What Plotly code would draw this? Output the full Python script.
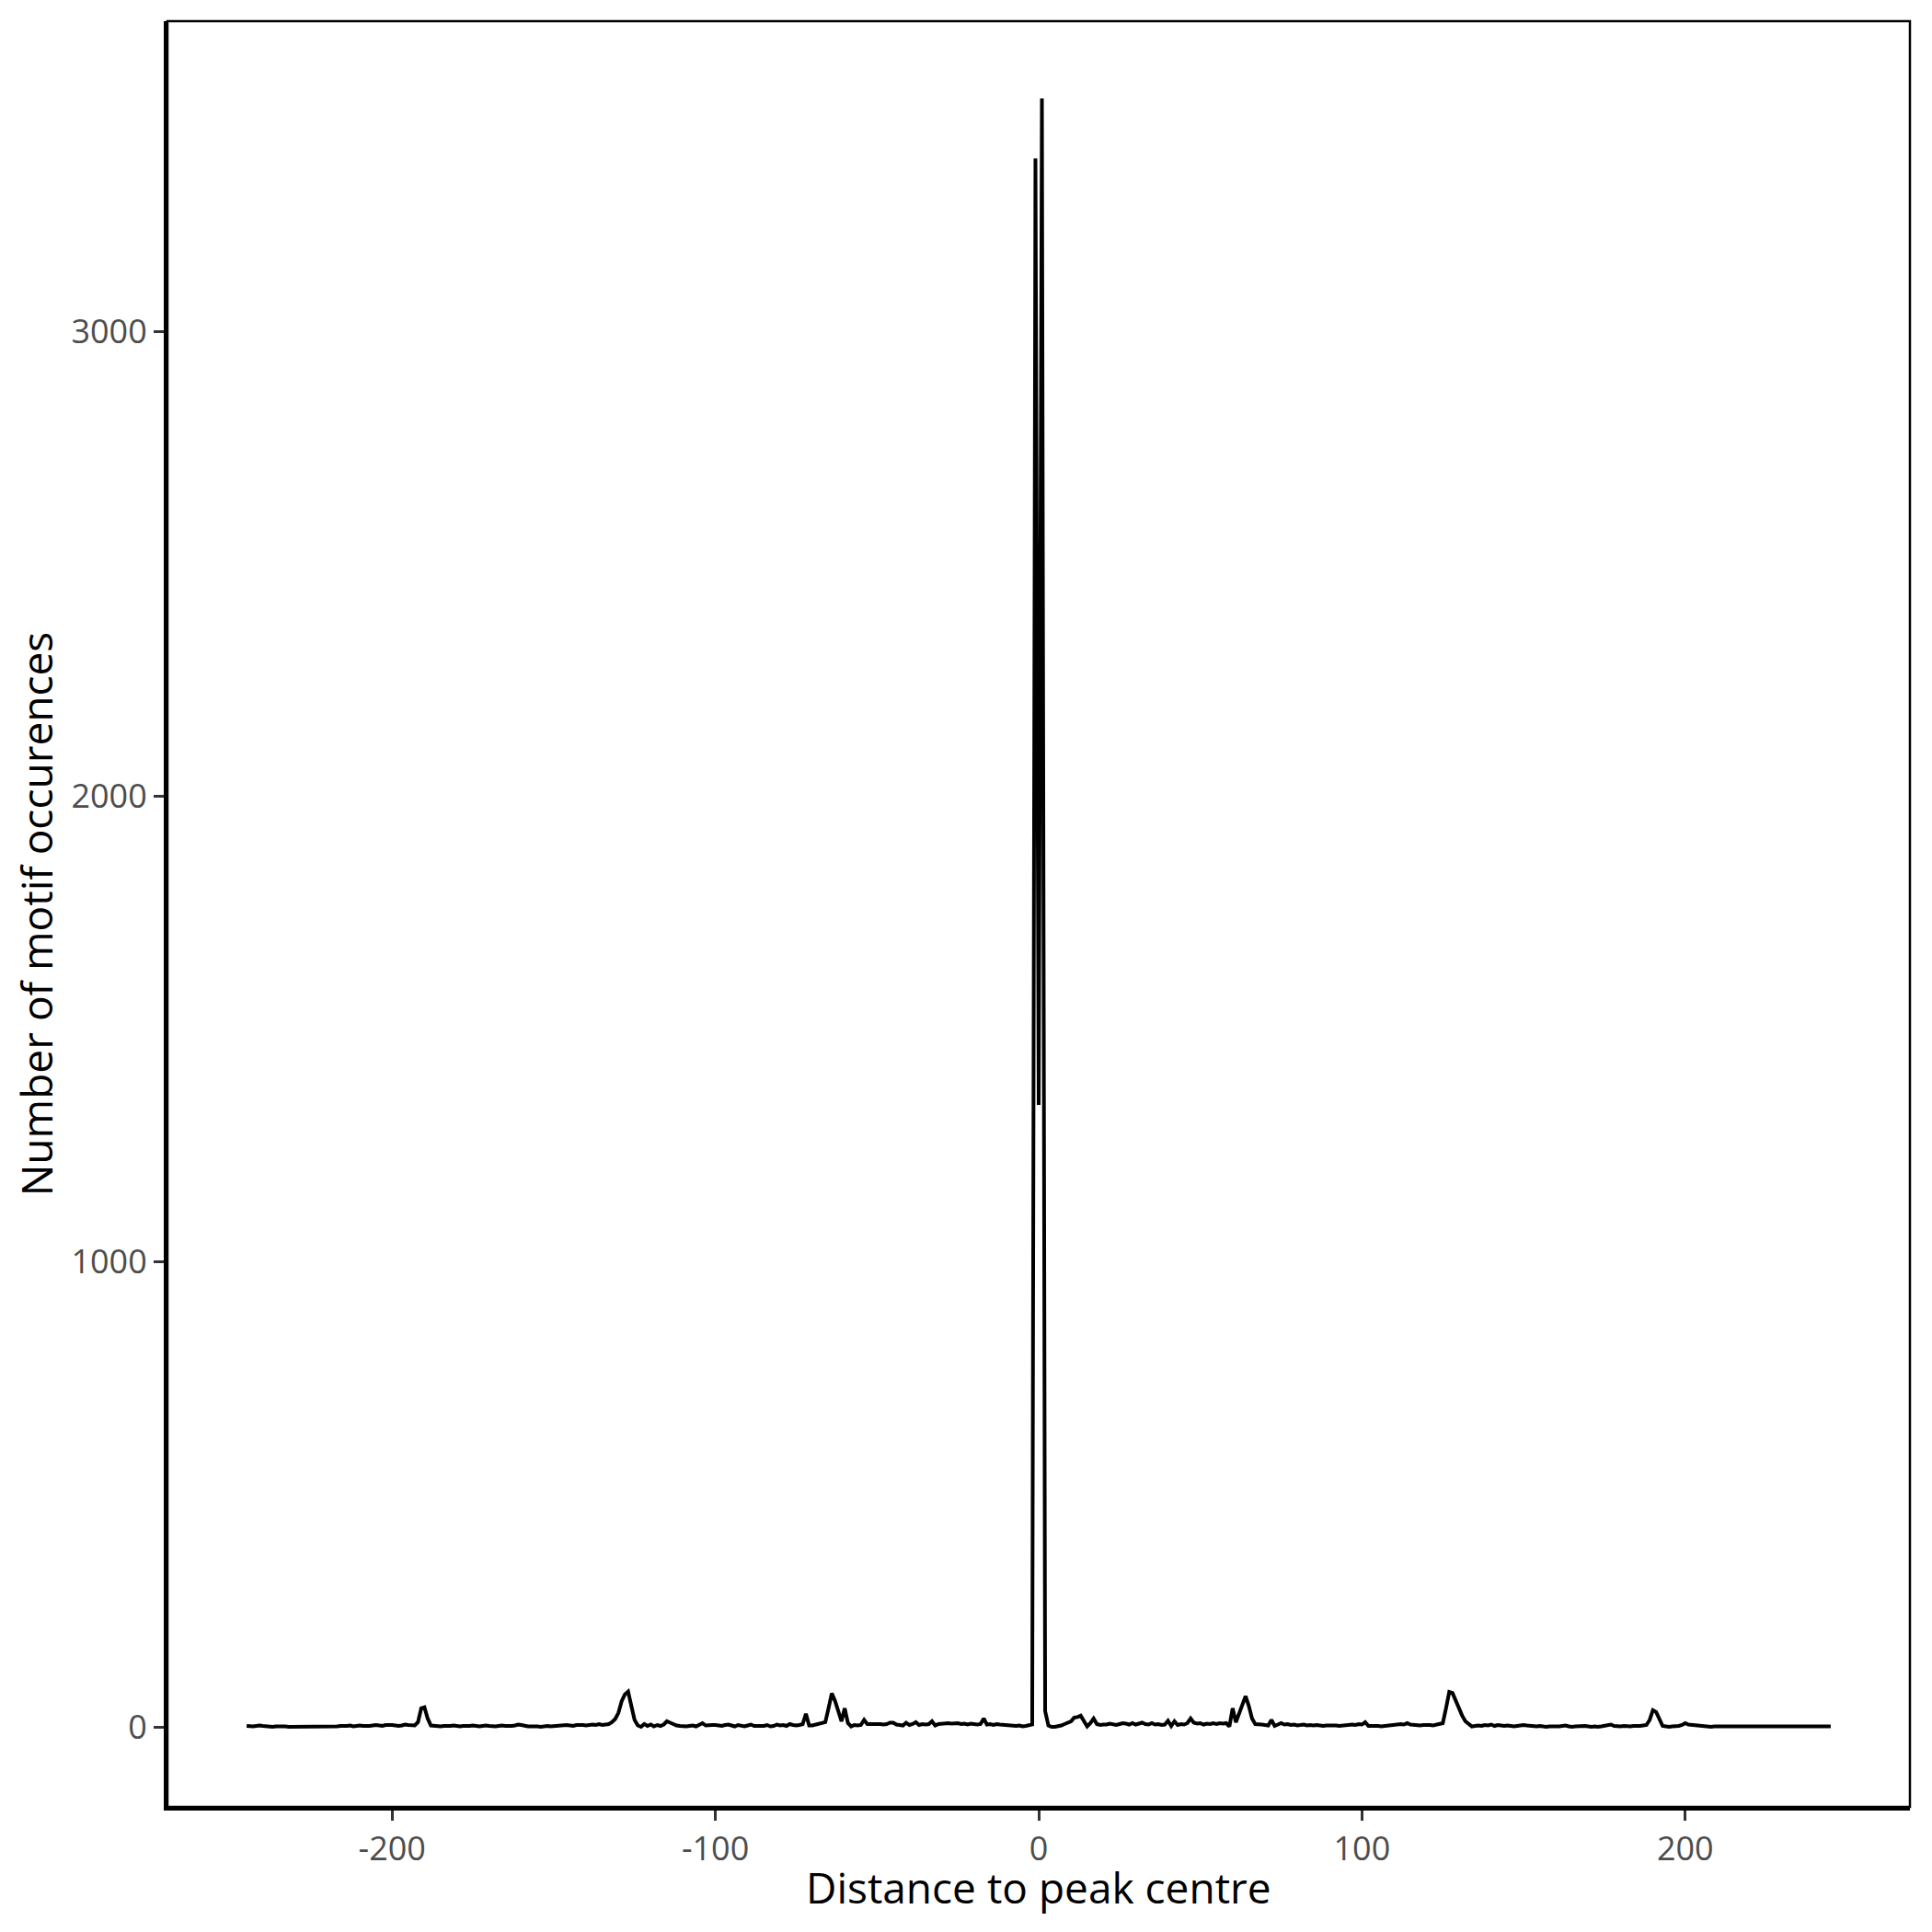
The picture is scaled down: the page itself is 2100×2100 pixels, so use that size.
import plotly.graph_objects as go

# Distance bins (bp) from -245 to 245
x_start = -245
x_end = 245

# Counts for distances -245 .. -6
counts_left = [
    2, 1, 1, 2, 3, 2, 1, 1, 0, 1,
    1, 2, 1, 0, 0, 1, 1, 0, 0, 1,
    0, 0, 1, 0, 0, 1, 0, 0, 1, 2,
    1, 2, 3, 1, 2, 3, 2, 1, 2, 3,
    4, 3, 2, 4, 5, 4, 3, 2, 3, 5,
    4, 3, 3, 10, 40, 42, 18, 3, 2, 2,
    1, 2, 1, 2, 3, 2, 1, 2, 1, 2,
    3, 2, 1, 2, 3, 2, 1, 1, 2, 3,
    2, 1, 2, 3, 5, 4, 2, 1, 1, 2,
    1, 0, 1, 2, 1, 2, 3, 2, 3, 4,
    3, 2, 4, 5, 4, 3, 4, 5, 4, 6,
    4, 5, 6, 10, 17, 30, 55, 70, 76, 45,
    15, 3, 0, 6, 2, 5, 1, 4, 2, 5,
    12, 9, 5, 3, 2, 1, 1, 2, 3, 1,
    4, 8, 3, 4, 4, 4, 3, 2, 4, 5,
    3, 1, 4, 2, 1, 3, 5, 2, 2, 1,
    2, 4, 1, 2, 5, 3, 4, 2, 6, 4,
    3, 4, 6, 28, 3, 3, 5, 6, 8, 10,
    40, 72, 56, 35, 12, 40, 8, 1, 4, 3,
    4, 15, 6, 6, 7, 6, 6, 5, 6, 9,
    9, 5, 4, 3, 9, 4, 6, 10, 4, 6,
    5, 6, 12, 3, 6, 7, 8, 8, 7, 8,
    8, 6, 7, 5, 7, 6, 5, 6, 18, 5,
    6, 4, 6, 5, 4, 3, 2, 1, 2, 3,
]

# Counts for distances -5 .. 4 (peak centre)
counts_centre = [1, 2, 3, 5, 3372, 1337, 3501, 34, 3, 0]

# Counts for distances 5 .. 245
counts_right = [
    0, 1, 3, 6, 10, 12, 20, 21, 24, 12,
    1, 8, 18, 6, 4, 5, 5, 7, 5, 4,
    6, 8, 7, 5, 8, 5, 7, 9, 6, 5,
    8, 5, 6, 4, 5, 13, 2, 12, 4, 6,
    5, 8, 18, 9, 7, 8, 5, 7, 6, 8,
    6, 8, 7, 8, 1, 40, 10, 29, 44, 66,
    45, 18, 6, 6, 5, 4, 3, 15, 2, 5,
    8, 5, 6, 4, 5, 3, 4, 5, 3, 4,
    3, 4, 3, 2, 3, 3, 4, 3, 2, 3,
    3, 4, 5, 4, 6, 5, 10, 2, 2, 3,
    2, 1, 2, 3, 4, 5, 4, 6, 5, 8,
    5, 4, 4, 3, 4, 5, 4, 3, 4, 5,
    8, 40, 75, 73, 55, 38, 24, 12, 6, 1,
    2, 3, 2, 4, 3, 5, 2, 4, 3, 2,
    3, 2, 1, 2, 3, 4, 3, 2, 1, 1,
    2, 1, 0, 1, 2, 1, 1, 2, 3, 1,
    0, 1, 2, 3, 2, 1, 0, 1, 0, 1,
    2, 3, 5, 2, 1, 1, 2, 1, 1, 2,
    1, 2, 3, 4, 15, 36, 32, 16, 2, 1,
    0, 1, 1, 2, 4, 8, 5, 4, 3, 2,
    2, 1, 1, 0, 1, 1, 0, 1, 0, 0,
    1, 0, 1, 1, 0, 0, 1, 0, 1, 0,
    0, 1, 0, 0, 1, 0, 1, 0, 0, 1,
    0, 1, 0, 1, 0, 0, 1, 0, 1, 0,
    1,
]

x_ticks = [-200, -100, 0, 100, 200]
y_ticks = [0, 1000, 2000, 3000]
x_title = "Distance to peak centre"
y_title = "Number of motif occurences"

counts = counts_left + counts_centre + counts_right
distances = list(range(x_start, x_end + 1))
assert len(distances) == len(counts)

FONT = "Open Sans"

fig = go.Figure()
fig.add_trace(go.Scatter(
    x=distances, y=counts, mode="lines",
    line=dict(color="black", width=4),
    showlegend=False, hoverinfo="skip",
))

span = x_end - x_start
fig.update_layout(
    width=2092, height=2092,
    margin=dict(l=174, r=24, t=15, b=136),
    paper_bgcolor="white", plot_bgcolor="white",
    font=dict(family=FONT, color="black"),
    xaxis=dict(
        range=[x_start - 0.05 * span, x_end + 0.05 * span],
        tickvals=x_ticks, ticktext=[str(v) for v in x_ticks],
        showgrid=False, zeroline=False,
        showline=True, linecolor="black", linewidth=4,
        ticks="outside", ticklen=11, tickwidth=2.5, tickcolor="#333333",
        tickfont=dict(family=FONT, size=36, color="#4D4D4D"),
    ),
    yaxis=dict(
        range=[-172, 3667],
        tickvals=y_ticks, ticktext=[str(v) for v in y_ticks],
        showgrid=False, zeroline=False,
        showline=True, linecolor="black", linewidth=4,
        ticks="outside", ticklen=11, tickwidth=2.5, tickcolor="#333333",
        tickfont=dict(family=FONT, size=36, color="#4D4D4D"),
        title=dict(text=y_title, font=dict(family=FONT, size=46, color="black"), standoff=14),
    ),
    annotations=[dict(text=x_title, xref="paper", yref="paper", x=0.5, y=0,
                      xanchor="center", yanchor="middle", yshift=-87, showarrow=False,
                      font=dict(family=FONT, size=46, color="black"))],
    shapes=[dict(type="rect", xref="paper", yref="paper", x0=0, y0=0, x1=1, y1=1,
                 line=dict(color="black", width=2.5), fillcolor="rgba(0,0,0,0)", layer="above")],
)

fig.write_html("out.html")
